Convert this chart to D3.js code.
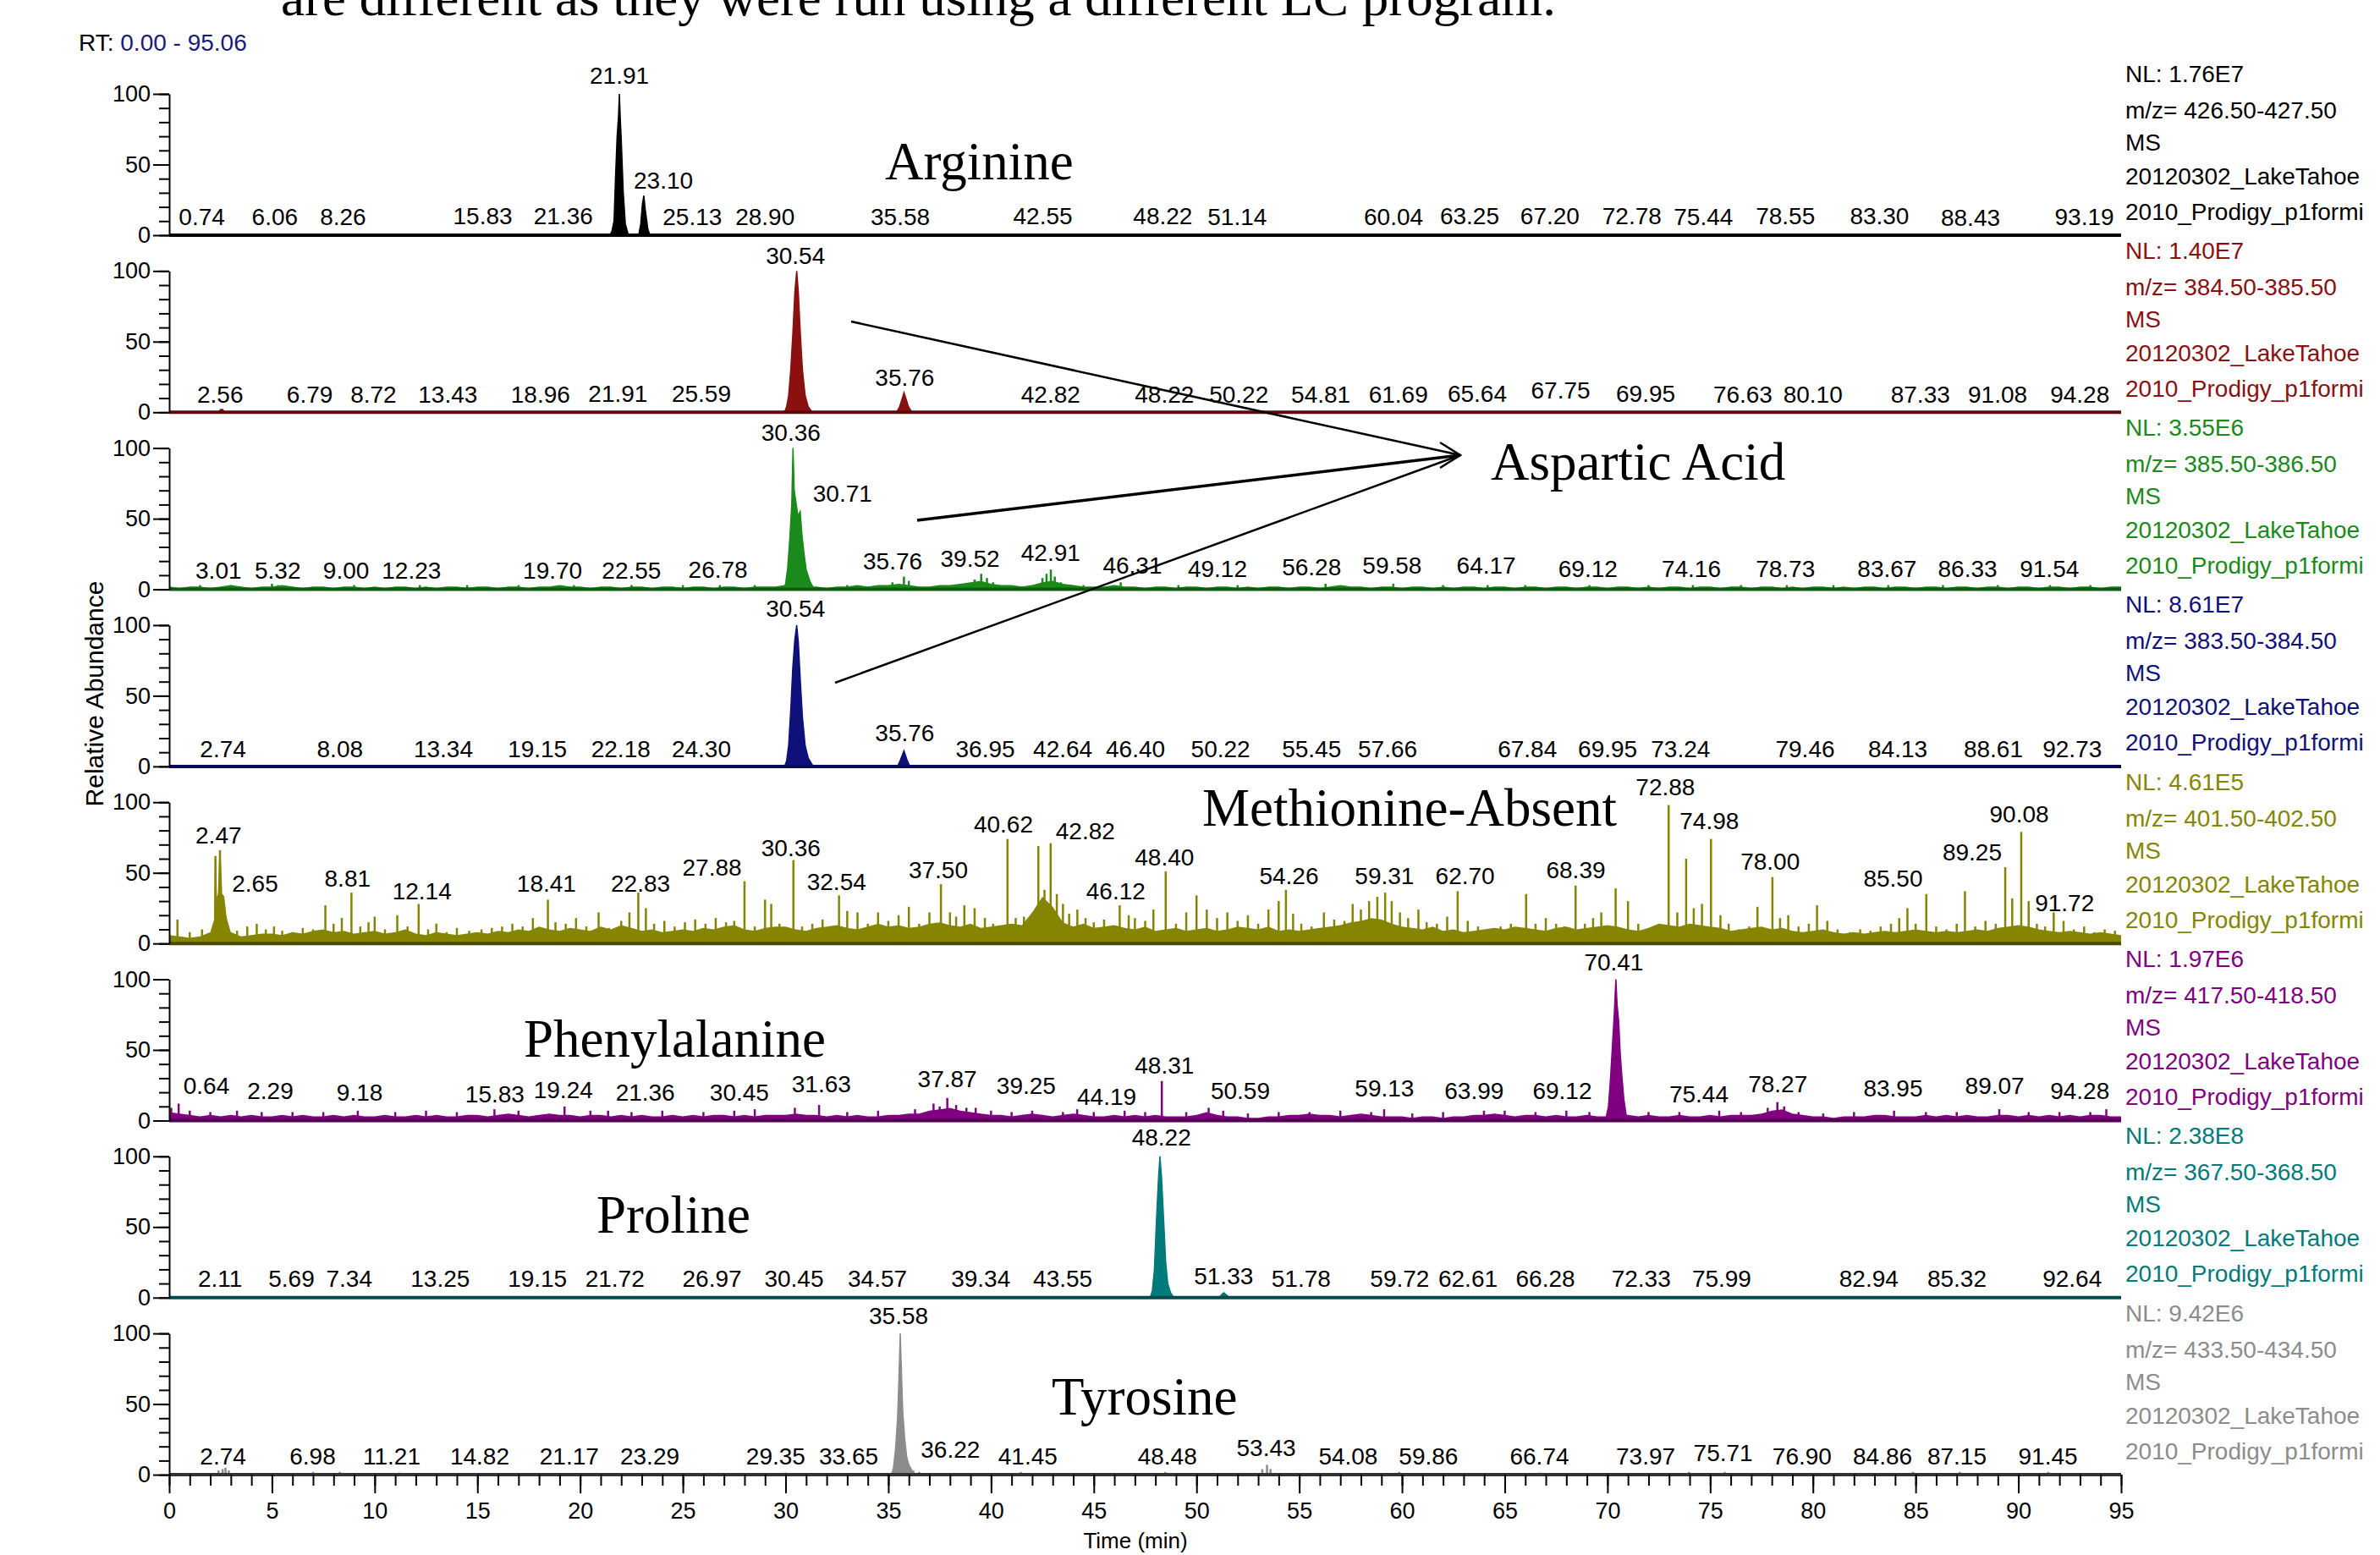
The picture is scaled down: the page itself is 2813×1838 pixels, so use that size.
<!DOCTYPE html>
<html>
<head>
<meta charset="utf-8">
<script src="https://d3js.org/d3.v7.min.js"></script>
<style>
  body { margin: 0; background: #fff; }
  svg text { font-family: "Liberation Sans", Arial, sans-serif; }
  svg text.serif { font-family: "Liberation Serif", "Times New Roman", serif; }
</style>
</head>
<body>
<svg width="2813" height="1838"></svg>
<script>
// ---- data ----
const timeTicks = d3.range(0, 96, 5);
const abundanceTicks = [0, 50, 100];
const compounds = ['Arginine', 'Aspartic Acid', 'Methionine-Absent', 'Phenylalanine', 'Proline', 'Tyrosine'];
const nlValues = ['1.76E7', '1.40E7', '3.55E6', '8.61E7', '4.61E5', '1.97E6', '2.38E8', '9.42E6'];
const mzRanges = ['426.50-427.50', '384.50-385.50', '385.50-386.50', '383.50-384.50',
                  '401.50-402.50', '417.50-418.50', '367.50-368.50', '433.50-434.50'];
const scanType = 'MS';
const fileLine1 = '20120302_LakeTahoe';
const fileLine2 = '2010_Prodigy_p1formi';

// peak profiles [time, relative abundance]
const arginineProfile = [[21.45,0],[21.55,3],[21.65,10],[21.72,40],[21.8,70],[21.87,85],[21.91,100],[21.95,84],[22.0,68],[22.1,30],[22.2,8],[22.35,0]];
const arginineProfile2 = [[22.85,0],[22.95,8],[23.03,22],[23.1,28],[23.17,18],[23.3,4],[23.4,0]];
const asp384Profile = [[29.95,0],[30.05,4],[30.15,12],[30.25,30],[30.35,55],[30.45,85],[30.54,100],[30.62,85],[30.72,55],[30.82,30],[30.95,12],[31.1,4],[31.3,0]];
const asp384Profile2 = [[35.4,0],[35.55,4],[35.68,10],[35.76,14],[35.85,10],[35.98,4],[36.15,0]];
const asp384Profile3 = [[2.4,0],[2.5,2],[2.6,2],[2.7,0]];
const asp385Profile = [[29.9,0],[30.0,4],[30.1,15],[30.2,35],[30.3,60],[30.36,100],[30.42,70],[30.5,62],[30.6,52],[30.71,55],[30.8,38],[30.9,25],[31.0,14],[31.2,5],[31.4,0]];
const asp383Profile = [[29.95,0],[30.05,4],[30.15,15],[30.25,40],[30.35,70],[30.45,90],[30.54,100],[30.62,88],[30.72,60],[30.82,35],[30.95,15],[31.1,6],[31.3,1],[31.45,0]];
const asp383Profile2 = [[35.45,0],[35.6,5],[35.76,11],[35.9,5],[36.05,0]];
const metProfile = [[2.1,0],[2.2,5],[2.25,60],[2.3,30],[2.4,35],[2.47,66],[2.55,35],[2.65,33],[2.75,20],[2.9,8],[3.0,2],[3.1,0]];
const pheProfile = [[69.9,0],[70.05,10],[70.15,30],[70.25,55],[70.33,75],[70.41,100],[70.47,82],[70.55,70],[70.62,48],[70.7,32],[70.8,15],[70.9,5],[71.0,0]];
const proProfile = [[47.75,0],[47.85,5],[47.95,20],[48.05,55],[48.15,85],[48.22,100],[48.3,85],[48.4,55],[48.5,25],[48.6,10],[48.75,3],[48.9,0]];
const proProfile2 = [[51.1,0],[51.25,2.5],[51.33,3.5],[51.45,2],[51.6,0]];
const tyrProfile = [[35.15,0],[35.25,5],[35.35,18],[35.45,40],[35.52,70],[35.58,100],[35.64,72],[35.7,45],[35.8,25],[35.9,12],[36.0,7],[36.15,3],[36.3,0]];

// background noise sampled every 0.5 min from 0 to 95
const grassStep = 0.5;
const metGrass = [6,5,4,5,8,32,8,5,6,7, 7,6,8,7,9,10,8,9,7,8, 9,7,8,10,7,6,8,7,6,7, 8,7,9,8,10,9,12,10,9,11,
  10,9,12,10,13,11,9,10,8,9, 10,9,11,10,12,13,10,9,11,12, 12,10,9,11,12,13,11,10,12,14, 12,13,11,12,14,15,13,12,14,11,
  12,13,14,13,22,33,26,15,12,14, 11,12,13,11,10,12,9,10,11,9, 10,11,9,10,12,11,10,12,9,10, 9,10,11,12,13,15,16,18,17,14,
  12,11,10,12,9,10,8,9,10,11, 10,12,11,10,9,11,12,10,11,12, 13,12,10,9,11,14,13,12,14,13, 12,11,9,10,11,12,10,11,9,8,
  9,10,8,7,8,7,8,9,8,9, 10,9,8,9,8,9,10,9,11,12, 13,12,10,9,8,9,8,7,8,7,6];
const pheGrass = [6,5,4,3,4,3,4,3,4,3, 3,4,3,4,3,3,4,3,4,3, 3,4,3,3,4,3,4,3,3,4, 4,3,4,5,4,3,4,5,4,4,
  3,4,4,3,4,3,4,3,3,4, 3,4,3,4,4,3,4,3,4,4, 4,5,4,4,3,4,3,4,3,3, 4,4,5,5,7,8,9,7,6,5,
  4,4,3,4,5,4,3,4,5,4, 3,3,4,3,4,3,4,3,3,3, 4,6,4,3,3,2,2,3,3,4, 4,5,4,4,3,4,5,4,3,3,
  3,2,3,3,2,3,3,4,4,5, 4,3,4,4,3,4,3,3,4,3, 3,3,4,3,4,3,3,4,3,3, 4,3,4,4,4,5,7,8,5,4,
  3,3,2,3,3,3,4,4,3,3, 3,4,3,4,3,4,3,3,4,4, 3,4,3,4,3,4,3,4,4,3,3];
const asp385Grass = [2,1,2,2,1,2,3,2,1,2, 2,3,2,1,2,2,1,2,2,1, 2,1,2,2,1,2,1,2,2,1, 2,2,1,2,2,1,2,2,3,2,
  2,1,2,2,1,2,2,1,2,2, 1,2,2,1,2,2,1,2,2,2, 3,3,2,2,1,2,2,3,2,3, 3,4,3,2,2,3,3,4,5,6,
  4,3,3,2,3,5,6,4,3,2, 2,2,3,2,2,1,2,2,1,2, 2,1,2,2,1,2,1,2,2,1, 2,2,1,2,3,2,2,1,2,2,
  1,2,2,1,2,1,2,2,1,2, 2,1,2,2,1,2,2,1,2,2, 1,2,2,1,2,1,2,2,1,2, 2,1,2,2,1,2,2,1,2,1,
  2,2,1,2,1,2,2,1,2,2, 1,2,2,1,2,2,1,2,2,1, 2,2,1,2,2,1,2,2,1,2,2];

// narrow spikes [time, relative abundance]
const metSpikes = [[0.4,17],[1.0,8],[1.6,10],[2.25,62],[2.47,66],[3.3,9],[3.8,12],[4.26,14],[4.7,10],[5.1,12],[5.5,9],[6.0,8],[6.5,11],[7.0,10],
  [7.6,27],[8.0,14],[8.4,18],[8.87,36],[9.3,12],[9.7,15],[10.0,19],[10.5,10],[11.1,20],[11.6,12],[12.14,28],[12.6,10],[13.0,14],[13.5,8],
  [14.0,11],[14.6,9],[15.2,10],[15.7,11],[16.2,12],[16.7,14],[17.2,12],[17.7,18],[18.43,31],[18.8,15],[19.3,14],[19.8,18],[20.3,12],[20.9,22],
  [21.4,11],[22.0,16],[22.4,22],[22.83,36],[23.2,25],[23.6,14],[24.1,16],[24.6,12],[25.1,15],[25.6,17],[26.1,14],[26.6,18],[27.1,15],[27.5,16],
  [28.0,44],[28.5,12],[29.0,31],[29.3,28],[29.7,14],[30.38,59],[30.8,12],[31.3,14],[31.8,17],[32.6,34],[33.0,23],[33.5,22],[34.0,14],[34.5,22],
  [35.0,16],[35.5,20],[36.0,26],[36.5,14],[37.0,22],[37.56,42],[38.0,22],[38.3,19],[38.7,27],[39.2,25],[39.7,18],[40.1,14],[40.8,74],[41.2,18],
  [41.6,19],[42.3,69],[42.6,38],[42.9,71],[43.2,35],[43.5,28],[43.8,21],[44.2,24],[44.6,18],[45.0,15],[45.5,17],[46.26,27],[46.7,20],[47.0,18],
  [47.5,16],[47.9,24],[48.5,51],[49.0,14],[49.5,22],[50.0,34],[50.5,24],[51.0,18],[51.5,22],[52.0,16],[52.5,20],[53.0,14],[53.5,24],[54.0,30],
  [54.35,38],[54.7,21],[55.1,14],[55.6,12],[56.2,22],[56.7,17],[57.2,16],[57.6,28],[58.0,24],[58.4,30],[58.8,33],[59.18,36],[59.5,30],[59.9,22],
  [60.3,18],[60.8,24],[61.2,15],[61.7,14],[62.2,19],[62.71,37],[63.2,16],[63.7,12],[64.2,10],[64.8,12],[65.3,14],[66.04,35],[66.5,14],[67.0,18],
  [67.5,14],[67.9,12],[68.45,41],[68.9,14],[69.3,18],[69.7,22],[70.4,39],[71.0,30],[71.5,14],[72.0,10],[72.5,12],[72.98,98],[73.4,22],[73.83,60],
  [74.2,25],[74.6,28],[75.04,74],[75.5,20],[75.9,14],[76.4,10],[76.9,12],[77.3,26],[78.03,47],[78.4,18],[78.8,20],[79.3,12],[79.8,14],[80.2,27],
  [80.7,16],[81.2,10],[81.8,8],[82.3,10],[82.8,9],[83.3,12],[83.8,14],[84.2,18],[84.6,25],[85.0,14],[85.52,35],[86.0,12],[86.5,10],[87.0,14],
  [87.4,37],[87.9,12],[88.4,16],[88.9,14],[89.36,54],[89.7,32],[90.14,79],[90.5,30],[90.9,14],[91.3,12],[91.72,22],[92.2,16],[92.7,10],[93.2,12],
  [93.7,8],[94.2,10],[94.7,9]];
const pheSpikes = [[0.1,9],[0.46,12],[1.0,7],[2.0,6],[3.3,7],[4.5,6],[6.0,6],[7.5,6],[9.18,7],[11.0,6],[12.5,7],[14.0,6],[15.83,8],[17.0,7],
  [19.24,10],[20.5,7],[21.36,7],[22.5,6],[24.0,7],[26.0,6],[27.5,7],[28.5,8],[30.45,9],[31.63,11],[33.0,6],[34.5,7],[36.3,8],[37.2,12],[37.5,10],
  [37.87,16],[38.3,11],[38.8,9],[39.25,9],[40.0,7],[41.0,6],[42.0,7],[43.5,6],[44.19,8],[45.0,6],[46.5,7],[47.5,6],[48.31,28],[49.5,6],[50.59,9],
  [51.3,7],[52.5,5],[54.0,6],[55.5,6],[57.0,7],[58.5,6],[59.13,8],[60.5,5],[62.0,6],[63.99,7],[65.0,7],[66.5,6],[68.0,7],[69.12,6],[72.0,6],
  [73.5,6],[75.44,7],[76.5,6],[77.8,9],[78.27,13],[78.6,10],[79.3,6],[80.5,5],[82.0,6],[83.95,7],[85.5,6],[87.0,6],[89.07,8],[90.5,6],[92.0,6],
  [93.5,6],[94.28,8]];
const asp385Spikes = [[1.5,3],[3.0,3],[5.0,4],[5.3,3],[9.0,3],[12.2,3],[14.5,3],[17.0,3],[19.7,3],[22.5,3],[25.0,3],[26.8,3],[28.5,3],[33.0,3],
  [35.2,5],[35.76,9],[36.0,6],[39.2,7],[39.52,11],[39.8,8],[40.1,5],[42.5,8],[42.7,11],[42.91,14],[43.1,9],[43.4,5],[44.5,3],[46.31,5],[49.12,3],
  [52.0,3],[56.28,4],[59.58,4],[62.0,3],[64.17,3],[66.0,3],[69.12,3],[72.0,3],[74.16,3],[76.5,3],[78.73,3],[81.0,3],[83.67,3],[86.33,3],[89.0,3],
  [91.54,3],[93.5,3]];
const tyrSpikes = [[2.4,3],[2.6,4],[2.74,5],[2.9,3],[7.0,2],[8.3,2],[11.2,1.5],[30.0,1.5],[36.22,3],[36.5,2],[41.45,2],[48.48,2],[53.2,4],
  [53.43,7],[53.6,4],[59.86,2],[66.74,1.5],[73.97,2],[75.71,2],[84.86,2],[87.15,2],[91.45,2]];

// peak labels [text, label centre (min), abundance at label baseline]
const argLabels = [['0.74',1.59,7],['6.06',5.14,7],['8.26',8.46,7],['15.83',15.26,8],['21.36',19.18,8],['21.91',21.91,107],['23.10',24.05,33],
  ['25.13',25.46,7],['28.90',29.0,7],['35.58',35.58,7],['42.55',42.52,8],['48.22',48.36,8],['51.14',51.98,7],['60.04',59.59,7],['63.25',63.29,8],
  ['67.20',67.2,8],['72.78',71.19,8],['75.44',74.67,7],['78.55',78.66,8],['83.30',83.24,8],['88.43',87.67,6.5],['93.19',93.21,7]];
const asp384Labels = [['2.56',2.48,7],['6.79',6.84,6.5],['8.72',9.94,6.5],['13.43',13.56,6.5],['18.96',18.07,6.5],['21.91',21.84,7.5],
  ['25.59',25.9,7.5],['30.54',30.48,105],['35.76',35.8,19],['42.82',42.9,7],['48.22',48.44,7],['50.22',52.06,6.5],['54.81',56.05,6.5],
  ['61.69',59.82,7],['65.64',63.66,7.5],['67.75',67.72,9.5],['69.95',71.86,7.5],['76.63',76.59,7],['80.10',80.0,7],['87.33',85.23,6.5],
  ['91.08',88.99,6.5],['94.28',92.99,6.5]];
const asp385Labels = [['3.01',2.4,7.5],['5.32',5.28,7.5],['9.00',8.61,7.5],['12.23',11.79,7.5],['19.70',18.66,7.5],['22.55',22.5,7.5],
  ['26.78',26.71,8],['30.36',30.26,105],['30.71',32.77,62],['35.76',35.21,14],['39.52',38.98,16],['42.91',42.9,20],['46.31',46.88,11],
  ['49.12',51.02,9],['56.28',55.6,10],['59.58',59.52,11],['64.17',64.1,11],['69.12',69.05,9],['74.16',74.08,9],['78.73',78.66,9],
  ['83.67',83.61,9],['86.33',87.53,9],['91.54',91.51,9]];
const asp383Labels = [['2.74',2.62,6.5],['8.08',8.31,6.5],['13.34',13.34,6.5],['19.15',17.92,6.5],['22.18',21.98,6.5],['24.30',25.9,6.5],
  ['30.54',30.48,106],['35.76',35.8,18],['36.95',39.72,6.5],['42.64',43.49,6.5],['46.40',47.03,6.5],['50.22',51.17,6.5],['55.45',55.6,6.5],
  ['57.66',59.3,6.5],['67.84',66.1,6.5],['69.95',70.01,6.5],['73.24',73.56,6.5],['79.46',79.62,6.5],['84.13',84.13,6.5],['88.61',88.78,6.5],
  ['92.73',92.62,6.5]];
const metLabels = [['2.47',2.4,71],['2.65',4.18,36.5],['8.81',8.68,40],['12.14',12.3,31],['18.41',18.36,36.5],['22.83',22.94,36.5],
  ['27.88',26.42,48],['30.36',30.26,62],['32.54',32.48,37.6],['37.50',37.43,46],['40.62',40.6,78.5],['42.82',44.59,74],['46.12',46.07,31],
  ['48.40',48.44,55],['54.26',54.5,42],['59.31',59.15,42],['62.70',63.07,42],['68.39',68.46,46],['72.88',72.82,105],['74.98',74.96,81],
  ['78.00',77.92,52],['85.50',83.9,40],['89.25',87.75,59],['90.08',90.04,86],['91.72',92.25,22.6]];
const pheLabels = [['0.64',1.81,19],['2.29',4.92,15],['9.18',9.27,14],['15.83',15.85,13],['19.24',19.18,16],['21.36',23.17,14],
  ['30.45',27.75,14],['31.63',31.74,20],['37.87',37.87,23.6],['39.25',41.71,19],['44.19',45.63,11],['48.31',48.44,33],['50.59',52.13,15],
  ['59.13',59.15,17],['63.99',63.51,15],['69.12',67.8,15],['70.41',70.31,106],['75.44',74.45,13],['78.27',78.29,20],['83.95',83.9,17],
  ['89.07',88.85,19],['94.28',92.99,15]];
const proLabels = [['2.11',2.48,7.5],['5.69',5.95,7.5],['7.34',8.76,7.5],['13.25',13.19,7.5],['19.15',17.92,7.5],['21.72',21.69,7.5],
  ['26.97',26.42,7.5],['30.45',30.41,7.5],['34.57',34.47,7.5],['39.34',39.5,7.5],['43.55',43.49,7.5],['48.22',48.29,107.5],['51.33',51.32,9.7],
  ['51.78',55.09,7.5],['59.72',59.89,7.5],['62.61',63.21,7.5],['66.28',66.98,7.5],['72.33',71.64,7.5],['75.99',75.56,7.5],['82.94',82.72,7.5],
  ['85.32',87.01,7.5],['92.64',92.62,7.5]];
const tyrLabels = [['2.74',2.62,7.5],['6.98',6.98,7.5],['11.21',10.83,7.5],['14.82',15.11,7.5],['21.17',19.47,7.5],['23.29',23.39,7.5],
  ['29.35',29.52,7.5],['33.65',33.07,7.5],['35.58',35.5,106.5],['36.22',38.02,12],['41.45',41.79,7.5],['48.48',48.58,7.5],['53.43',53.39,13],
  ['54.08',57.38,7.5],['59.86',61.29,7.5],['66.74',66.69,7.5],['73.97',71.86,7.5],['75.71',75.63,9.5],['76.90',79.47,7.5],['84.86',83.39,7.5],
  ['87.15',87.01,7.5],['91.45',91.44,7.5]];

// ---- styling / layout ----
const colors = ['#000000', '#8b1010', '#1a8a1a', '#10107a', '#858500', '#800080', '#007a7a', '#8c8c8c'];
const baseColors = ['#000000', '#5a0a0a', '#0f5a0f', '#0a0a5a', '#4a4a00', '#500050', '#004a4a', '#333333'];

const panels = [
  { profiles: [arginineProfile, arginineProfile2], labels: argLabels },
  { profiles: [asp384Profile, asp384Profile2, asp384Profile3], labels: asp384Labels },
  { profiles: [asp385Profile], grass: asp385Grass, spikes: asp385Spikes, labels: asp385Labels },
  { profiles: [asp383Profile, asp383Profile2], labels: asp383Labels },
  { profiles: [metProfile], grass: metGrass, spikes: metSpikes, labels: metLabels },
  { profiles: [pheProfile], grass: pheGrass, spikes: pheSpikes, labels: pheLabels },
  { profiles: [proProfile, proProfile2], labels: proLabels },
  { profiles: [tyrProfile], spikes: tyrSpikes, labels: tyrLabels }
];

const svg = d3.select('svg');
svg.append('rect').attr('width', 2813).attr('height', 1838).attr('fill', '#fff');

const x = d3.scaleLinear().domain([0, 95]).range([200, 2507]);
const panelH = 167;
const panelTop = i => 111 + i * 209.3;
const y = d3.scaleLinear().domain([0, 100]).range([panelH, 0]);

const area = d3.area().x(d => x(d[0])).y0(y(0)).y1(d => y(d[1]));

panels.forEach((p, i) => {
  const col = colors[i];
  const g = svg.append('g').attr('transform', `translate(0,${panelTop(i)})`);

  if (p.grass) {
    g.append('path')
      .datum(p.grass.map((v, k) => [k * grassStep, v]))
      .attr('d', area)
      .attr('fill', col);
  }
  if (p.spikes) {
    g.selectAll('line.spike').data(p.spikes).join('line')
      .attr('class', 'spike')
      .attr('x1', d => x(d[0])).attr('x2', d => x(d[0]))
      .attr('y1', y(0)).attr('y2', d => y(d[1]))
      .attr('stroke', col).attr('stroke-width', 2.5);
  }
  p.profiles.forEach(pr => {
    g.append('path').datum(pr).attr('d', area).attr('fill', col)
      .attr('stroke', col).attr('stroke-width', 1.5);
  });

  // baseline
  g.append('line')
    .attr('x1', x(0)).attr('x2', x(95))
    .attr('y1', y(0)).attr('y2', y(0))
    .attr('stroke', baseColors[i]).attr('stroke-width', 4);

  // y axis: minor then major
  const minor = g.append('g').attr('transform', `translate(${x(0)},0)`)
    .call(d3.axisLeft(y).tickValues(d3.range(0, 101, 10)).tickSize(12).tickSizeOuter(0).tickFormat(''));
  minor.select('.domain').attr('stroke', '#000').attr('stroke-width', 2);
  minor.selectAll('.tick line').attr('stroke-width', 2);
  const major = g.append('g').attr('transform', `translate(${x(0)},0)`)
    .call(d3.axisLeft(y).tickValues(abundanceTicks).tickSize(19).tickPadding(3));
  major.select('.domain').remove();
  major.selectAll('.tick line').attr('stroke-width', 2);
  major.selectAll('.tick text').attr('font-size', 27).attr('fill', '#000')
    .style('font-family', '"Liberation Sans", Arial, sans-serif');

  // peak labels
  g.selectAll('text.pk').data(p.labels).join('text')
    .attr('class', 'pk')
    .attr('x', d => x(d[1]))
    .attr('y', d => y(d[2]))
    .attr('text-anchor', 'middle')
    .attr('font-size', 28)
    .attr('fill', '#000')
    .text(d => d[0]);

  // right-hand info block
  const info = ['NL: ' + nlValues[i], 'm/z= ' + mzRanges[i], scanType, fileLine1, fileLine2];
  const offs = [-24, 19, 57, 97, 139];
  info.forEach((t, k) => {
    g.append('text')
      .attr('x', 2512).attr('y', offs[k])
      .attr('dominant-baseline', 'central')
      .attr('font-size', 28).attr('fill', col)
      .text(t);
  });
});

// time axis under the last panel
const lastBase = panelTop(7) + panelH;
const xMinor = svg.append('g').attr('transform', `translate(0,${lastBase})`)
  .call(d3.axisBottom(x).tickValues(d3.range(0, 96, 1)).tickSize(13).tickSizeOuter(0).tickFormat(''));
xMinor.select('.domain').remove();
xMinor.selectAll('.tick line').attr('stroke-width', 2);
const xMajor = svg.append('g').attr('transform', `translate(0,${lastBase})`)
  .call(d3.axisBottom(x).tickValues(timeTicks).tickSize(22).tickSizeOuter(0).tickPadding(11));
xMajor.select('.domain').remove();
xMajor.selectAll('.tick line').attr('stroke-width', 2);
xMajor.selectAll('.tick text').attr('font-size', 27).attr('fill', '#000')
  .style('font-family', '"Liberation Sans", Arial, sans-serif');

svg.append('text').attr('x', 1342).attr('y', 1821).attr('text-anchor', 'middle')
  .attr('dominant-baseline', 'central').attr('font-size', 26).text('Time (min)');

svg.append('text').attr('transform', 'translate(111,820) rotate(-90)')
  .attr('text-anchor', 'middle').attr('dominant-baseline', 'central')
  .attr('font-size', 30).text('Relative Abundance');

const rt = svg.append('text').attr('x', 93).attr('y', 50).attr('dominant-baseline', 'central').attr('font-size', 28);
rt.append('tspan').attr('fill', '#000').text('RT: ');
rt.append('tspan').attr('fill', '#1a1a7a').text('0.00 - 95.06');

// slide caption cut off at the top
svg.append('text').attr('class', 'serif')
  .attr('x', 332).attr('y', 18)
  .attr('font-size', 62)
  .attr('textLength', 1507).attr('lengthAdjust', 'spacingAndGlyphs')
  .text('are different as they were run using a different LC program.');

// compound annotations
const annoPos = [[1046, 212], [1762, 567], [1421, 976], [619, 1249], [705, 1457], [1243, 1672]];
compounds.forEach((c, k) => {
  svg.append('text').attr('class', 'serif')
    .attr('x', annoPos[k][0]).attr('y', annoPos[k][1])
    .attr('font-size', 63).attr('fill', '#000')
    .text(c);
});

// arrows to "Aspartic Acid"
const tip = [1726, 538];
[[1006, 380, 2.5], [1084, 615, 3.5], [987, 807, 2.5]].forEach(a => {
  svg.append('line').attr('x1', a[0]).attr('y1', a[1]).attr('x2', tip[0]).attr('y2', tip[1])
    .attr('stroke', '#000').attr('stroke-width', a[2]);
});
svg.append('path').attr('d', `M${tip[0] - 24},${tip[1] - 15} L${tip[0]},${tip[1]} L${tip[0] - 24},${tip[1] + 15}`)
  .attr('fill', 'none').attr('stroke', '#000').attr('stroke-width', 2.5);
</script>
</body>
</html>
